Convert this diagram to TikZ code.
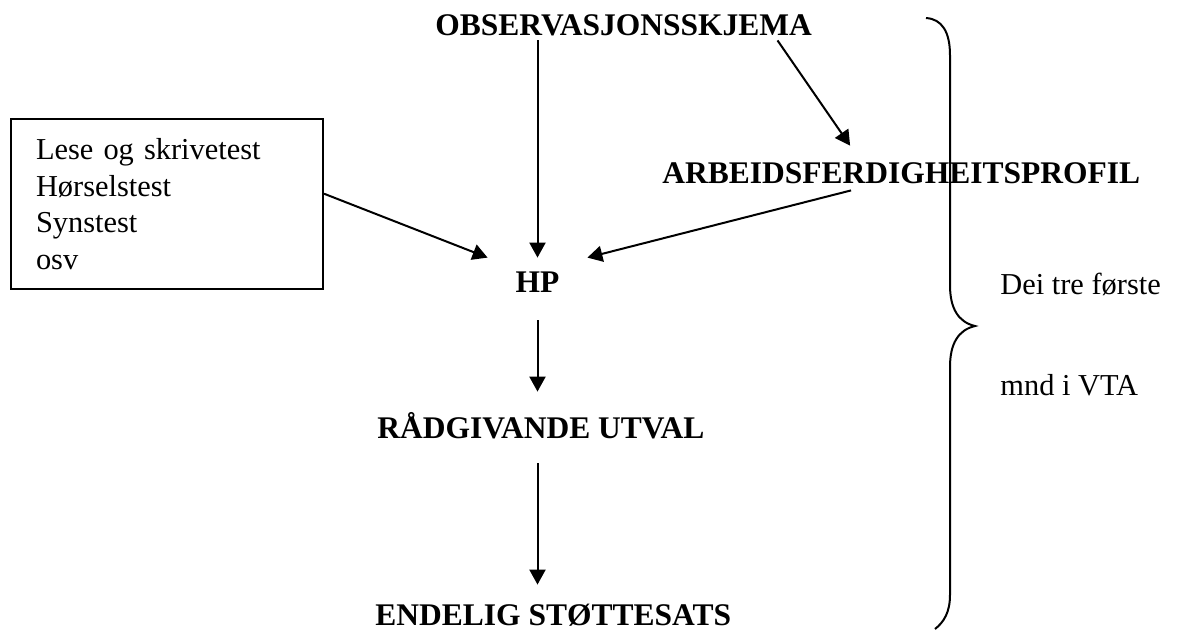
\documentclass[tikz,border=0pt]{standalone}
\usepackage{fontspec}
\setmainfont{Liberation Serif}
\usetikzlibrary{arrows.meta,calc}
\newlength{\du}
\setlength{\du}{0.5pt}
\tikzset{
  lbl/.style={font=\fontsize{15.2}{18.3}\selectfont, inner sep=0pt},
  boldlbl/.style={lbl, font=\fontsize{15.75}{18.3}\selectfont\bfseries},
  flow/.style={-{Triangle[length=7.5pt,width=8pt]}, line width=1pt},
}

\begin{document}
\begin{tikzpicture}
\pgftransformxscale{1.000000}
\pgftransformyscale{-1.000000}
\definecolor{dialinecolor}{rgb}{0.000000, 0.000000, 0.000000}
\pgfsetstrokecolor{dialinecolor}
\useasboundingbox (0.000000\du,0.000000\du) rectangle (1180.000000\du,629.000000\du);
% headings
\node[boldlbl, anchor=base west, text height=20\du, text depth=5\du] (obs) at (435.000000\du,35.000000\du){OBSERVASJONSSKJEMA};
\node[boldlbl, anchor=base west, text height=37\du, text depth=7\du] (profil) at (662.000000\du,183.000000\du){ARBEIDSFERDIGHEITSPROFIL};
\node[boldlbl, anchor=base, text height=34\du, text depth=28\du, minimum width=99\du] (hp) at (537.500000\du,292.000000\du){HP};
\node[boldlbl, anchor=base west, text height=46\du, text depth=25\du] (utval) at (377.000000\du,438.000000\du){RÅDGIVANDE UTVAL};
\node[boldlbl, anchor=base west, text height=40\du, text depth=5\du] (sats) at (375.000000\du,625.000000\du){ENDELIG STØTTESATS};
% box with the tests
\node[lbl, draw, line width=1pt, anchor=north west, inner xsep=25\du, text width=262\du, minimum height=170\du, align=left] (tests) at (10.000000\du,118.000000\du){Lese og skrivetest\\Hørselstest\\Synstest\\osv};
% text beside the brace
\node[lbl, anchor=base west] (forste) at (1000.000000\du,294.000000\du){Dei tre første};
\node[lbl, anchor=base west] (mnd) at (1000.000000\du,395.000000\du){mnd i VTA};
% arrows
\draw[flow] (obs.south -| hp) -- (hp.north);
\draw[flow] ($(obs.south west)!0.908!(obs.south east)$) -- ($(profil.north west)!0.393!(profil.north east)$);
\draw[flow] ($(tests.north east)!0.44!(tests.south east)$) -- (hp.north west);
\draw[flow] ($(profil.south west)!0.395!(profil.south east)$) -- (hp.north east);
\draw[flow] (hp.south) -- (hp.south |- utval.north);
\draw[flow] (hp.south |- utval.south) -- (hp.south |- sats.north);
% brace
\draw[line width=1pt] (926.000000\du,18.000000\du) .. controls (942.000000\du,19.000000\du) and (950.000000\du,32.000000\du) .. (950.000000\du,55.000000\du) -- (950.000000\du,285.000000\du) .. controls (950.000000\du,308.000000\du) and (958.000000\du,322.000000\du) .. (975.000000\du,326.000000\du) .. controls (958.000000\du,330.000000\du) and (950.000000\du,344.000000\du) .. (950.000000\du,367.000000\du) -- (950.000000\du,595.000000\du) .. controls (950.000000\du,612.000000\du) and (944.000000\du,622.000000\du) .. (935.000000\du,629.000000\du);
\end{tikzpicture}
\end{document}
